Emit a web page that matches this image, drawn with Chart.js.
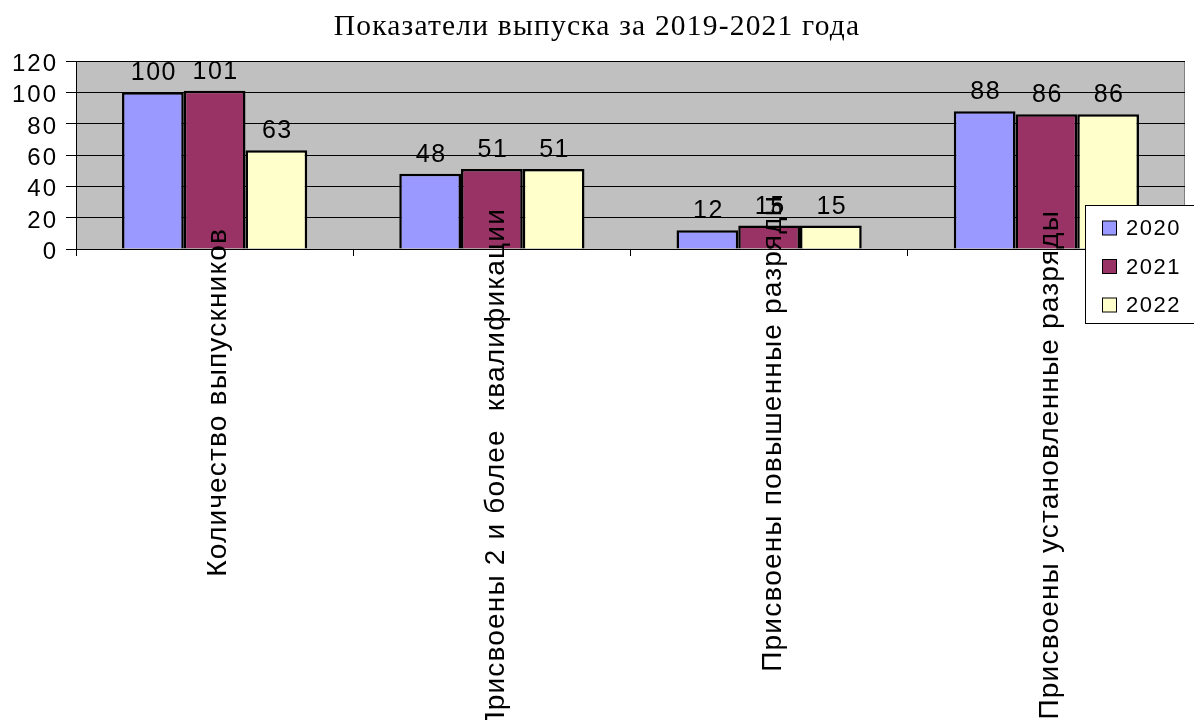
<!DOCTYPE html>
<html>
<head>
<meta charset="utf-8">
<script src="https://cdn.jsdelivr.net/npm/chart.js@4"></script>
<style>
  body { margin: 0; background: #fff; }
</style>
</head>
<body>
<canvas id="chart" width="1194" height="720"></canvas>
<script>
// данные диаграммы
const chartTitle = 'Показатели выпуска за 2019-2021 года';
const categories = ['Количество выпускников', 'Присвоены 2 и более  квалификации', 'Присвоены повышенные разряды', 'Присвоены установленные разряды'];
const seriesNames = ['2020', '2021', '2022'];
const values2020 = [100, 48, 12, 88];
const values2021 = [101, 51, 15, 86];
const values2022 = [63, 51, 15, 86];
const yTicks = [0, 20, 40, 60, 80, 100, 120];

const colors = ['#9999ff', '#993366', '#ffffcc'];
// где заканчивается каждая подпись оси X (сверху), в пикселях
const labelTops = [228, 208, 195, 210];
const SANS = '"Liberation Sans", Arial, sans-serif';

const bgPlugin = {
    id: 'bg',
    beforeDraw(chart) {
        const { ctx, chartArea: a } = chart;
        ctx.save();
        ctx.fillStyle = '#fff';
        ctx.fillRect(0, 0, chart.width, chart.height);
        ctx.fillStyle = '#c0c0c0';
        ctx.fillRect(a.left, a.top, a.right - a.left, a.bottom - a.top);
        ctx.strokeStyle = '#808080';
        ctx.lineWidth = 1;
        ctx.beginPath();
        ctx.moveTo(a.right - 0.5, a.top);
        ctx.lineTo(a.right - 0.5, a.bottom);
        ctx.stroke();
        ctx.restore();
    }
};

const textPlugin = {
    id: 'texts',
    afterDatasetsDraw(chart) {
        const ctx = chart.ctx;
        ctx.save();
        ctx.fillStyle = '#000';

        // заголовок
        ctx.font = '29.5px "Liberation Serif", serif';
        ctx.letterSpacing = '1.2px';
        ctx.textAlign = 'center';
        ctx.textBaseline = 'alphabetic';
        ctx.fillText(chartTitle, 597, 35);

        // значения над столбцами
        ctx.font = '25px ' + SANS;
        ctx.letterSpacing = '1.5px';
        chart.data.datasets.forEach((ds, i) => {
            chart.getDatasetMeta(i).data.forEach((bar, j) => {
                ctx.fillText(String(ds.data[j]), bar.x + 1, bar.y - 12);
            });
        });

        // подписи оси Y
        const ys = chart.scales.y;
        ctx.font = '24px ' + SANS;
        ctx.letterSpacing = '2px';
        ctx.textAlign = 'right';
        ys.ticks.forEach(t => {
            ctx.fillText(String(t.value), 58, ys.getPixelForValue(t.value) + 10);
        });

        // подписи категорий, повернутые на 90 градусов
        const xs = chart.scales.x;
        ctx.font = '28px ' + SANS;
        ctx.letterSpacing = '1.2px';
        ctx.textBaseline = 'middle';
        categories.forEach((c, j) => {
            ctx.save();
            ctx.translate(xs.getPixelForValue(j) + 4, labelTops[j]);
            ctx.rotate(-Math.PI / 2);
            ctx.fillText(c, 0, 0);
            ctx.restore();
        });
        ctx.restore();
    }
};

const legendPlugin = {
    id: 'boxLegend',
    afterDraw(chart) {
        const ctx = chart.ctx;
        const x = 1085.5, y = 205.5, w = 110, h = 118;
        ctx.save();
        ctx.fillStyle = '#fff';
        ctx.fillRect(x, y, w, h);
        ctx.strokeStyle = '#000';
        ctx.lineWidth = 1;
        ctx.strokeRect(x, y, w, h);
        ctx.font = '22px ' + SANS;
        ctx.letterSpacing = '1.5px';
        ctx.textAlign = 'left';
        ctx.textBaseline = 'middle';
        seriesNames.forEach((name, i) => {
            const cy = 228 + i * 38.5;
            ctx.fillStyle = colors[i];
            ctx.fillRect(1102.5, cy - 7, 14, 14);
            ctx.strokeRect(1102.5, cy - 7, 14, 14);
            ctx.fillStyle = '#000';
            ctx.fillText(name, 1126, cy + 1);
        });
        ctx.restore();
    }
};

new Chart(document.getElementById('chart'), {
    type: 'bar',
    data: {
        labels: categories,
        datasets: [
            { label: seriesNames[0], data: values2020, backgroundColor: colors[0] },
            { label: seriesNames[1], data: values2021, backgroundColor: colors[1] },
            { label: seriesNames[2], data: values2022, backgroundColor: colors[2] }
        ].map(d => Object.assign(d, { borderColor: '#000', borderWidth: 2.5, categoryPercentage: 0.668, barPercentage: 1 }))
    },
    options: {
        responsive: false,
        animation: false,
        layout: { padding: { left: 0, right: 9, top: 61, bottom: 464 } },
        plugins: {
            legend: { display: false },
            tooltip: { enabled: false },
            title: { display: false }
        },
        scales: {
            x: {
                ticks: { display: false },
                grid: { drawOnChartArea: false, drawTicks: true, tickLength: 7, color: '#000', offset: true },
                border: { color: '#000', width: 1 },
                afterFit(s) { s.height = 7; }
            },
            y: {
                min: 0,
                max: 120,
                afterBuildTicks(s) { s.ticks = yTicks.map(v => ({ value: v })); },
                ticks: { display: false, autoSkip: false },
                grid: { color: '#000', tickLength: 10 },
                border: { color: '#000', width: 1 },
                afterFit(s) { s.width = 76; }
            }
        }
    },
    plugins: [bgPlugin, textPlugin, legendPlugin]
});
</script>
</body>
</html>
